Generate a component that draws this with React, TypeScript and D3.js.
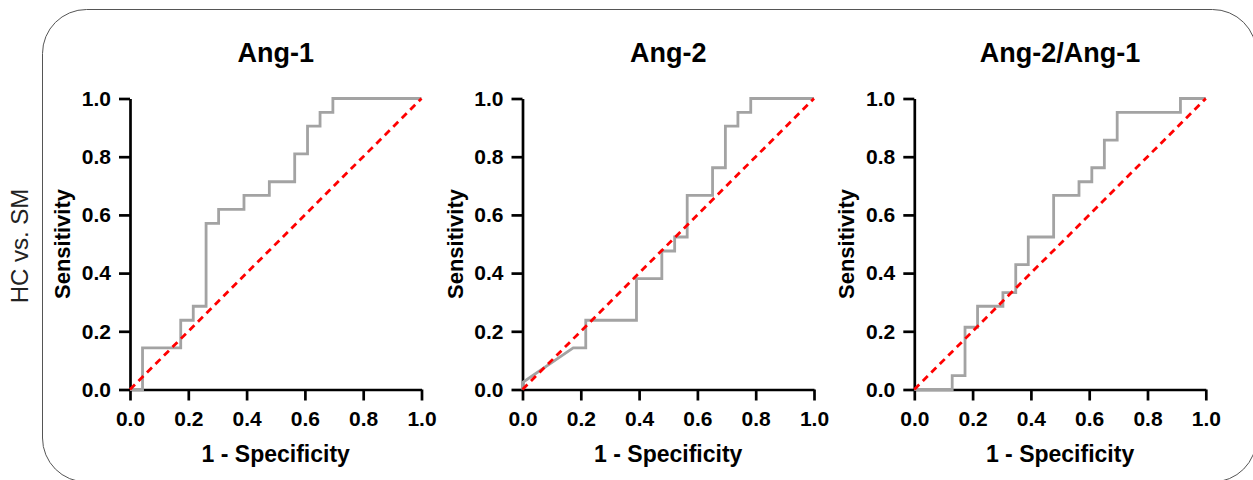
import React, { useRef, useEffect } from 'react';
import { select, scaleLinear, axisBottom, axisLeft, line, format } from 'd3';

const panelTitles = ['Ang-1', 'Ang-2', 'Ang-2/Ang-1'];
const rowLabel = 'HC vs. SM';
const xLabel = '1 - Specificity';
const yLabel = 'Sensitivity';
const tickValues = [0, 0.2, 0.4, 0.6, 0.8, 1.0];

// ROC step curves (1 - specificity, sensitivity)
const ang1Fpr = [0, 0.043, 0.043, 0.174, 0.174, 0.217, 0.217, 0.261, 0.261, 0.304, 0.304, 0.391, 0.391, 0.478, 0.478, 0.565, 0.565, 0.609, 0.609, 0.652, 0.652, 0.696, 0.696, 1];
const ang1Tpr = [0, 0, 0.143, 0.143, 0.238, 0.238, 0.286, 0.286, 0.571, 0.571, 0.619, 0.619, 0.667, 0.667, 0.714, 0.714, 0.81, 0.81, 0.905, 0.905, 0.952, 0.952, 1, 1];

const ang2Fpr = [0, 0, 0.174, 0.217, 0.217, 0.391, 0.391, 0.478, 0.478, 0.522, 0.522, 0.565, 0.565, 0.652, 0.652, 0.696, 0.696, 0.739, 0.739, 0.783, 0.783, 1];
const ang2Tpr = [0, 0.024, 0.143, 0.143, 0.238, 0.238, 0.381, 0.381, 0.476, 0.476, 0.524, 0.524, 0.667, 0.667, 0.762, 0.762, 0.905, 0.905, 0.952, 0.952, 1, 1];

const ratioFpr = [0, 0.13, 0.13, 0.174, 0.174, 0.217, 0.217, 0.304, 0.304, 0.348, 0.348, 0.391, 0.391, 0.478, 0.478, 0.565, 0.565, 0.609, 0.609, 0.652, 0.652, 0.696, 0.696, 0.913, 0.913, 1];
const ratioTpr = [0, 0, 0.048, 0.048, 0.214, 0.214, 0.286, 0.286, 0.333, 0.333, 0.429, 0.429, 0.524, 0.524, 0.667, 0.667, 0.714, 0.714, 0.762, 0.762, 0.857, 0.857, 0.952, 0.952, 1, 1];

const chanceLine = [0, 1];

const curves = [
    { fpr: ang1Fpr, tpr: ang1Tpr },
    { fpr: ang2Fpr, tpr: ang2Tpr },
    { fpr: ratioFpr, tpr: ratioTpr },
];

const FONT = '"Liberation Sans", Arial, sans-serif';
const panelLeft = [130, 522.5, 914.3];
const plotW = 291.5;
const plotTop = 98.5;
const plotH = 291;

const Panel = ({ index }) => {
    const gRef = useRef();

    useEffect(() => {
        const g = select(gRef.current);
        g.selectAll('*').remove();

        const left = panelLeft[index];
        const x = scaleLinear().domain([0, 1]).range([left, left + plotW]);
        const y = scaleLinear().domain([0, 1]).range([plotTop + plotH, plotTop]);
        const { fpr, tpr } = curves[index];

        const xAxis = g.append('g')
            .attr('transform', `translate(0,${plotTop + plotH})`)
            .call(axisBottom(x).tickValues(tickValues).tickFormat(format('.1f')).tickSize(11).tickSizeOuter(0).tickPadding(11));
        const yAxis = g.append('g')
            .attr('transform', `translate(${left},0)`)
            .call(axisLeft(y).tickValues(tickValues).tickFormat(format('.1f')).tickSize(11).tickSizeOuter(0).tickPadding(8));

        [xAxis, yAxis].forEach(a => {
            a.selectAll('path, line').attr('stroke', '#000').attr('stroke-width', 2.7);
            a.selectAll('text')
                .attr('fill', '#000')
                .style('font-family', FONT)
                .style('font-size', '21px')
                .style('font-weight', 'bold');
        });

        const lineGen = line().x(d => x(d[0])).y(d => y(d[1]));

        g.append('path')
            .datum(fpr.map((f, i) => [f, tpr[i]]))
            .attr('fill', 'none')
            .attr('stroke', '#a3a3a3')
            .attr('stroke-width', 2.8)
            .attr('d', lineGen);

        g.append('path')
            .datum(chanceLine.map(v => [v, v]))
            .attr('fill', 'none')
            .attr('stroke', '#ff0000')
            .attr('stroke-width', 2.8)
            .attr('stroke-dasharray', '7,5')
            .attr('d', lineGen);

        const cx = left + plotW / 2;
        g.append('text')
            .attr('x', cx).attr('y', 62)
            .attr('text-anchor', 'middle')
            .style('font-family', FONT).style('font-size', '27px').style('font-weight', 'bold')
            .text(panelTitles[index]);

        g.append('text')
            .attr('x', cx).attr('y', 462)
            .attr('text-anchor', 'middle')
            .style('font-family', FONT).style('font-size', '23px').style('font-weight', 'bold')
            .text(xLabel);

        g.append('text')
            .attr('transform', `translate(${left - 60},${plotTop + plotH / 2}) rotate(-90)`)
            .attr('text-anchor', 'middle')
            .style('font-family', FONT).style('font-size', '22px').style('font-weight', 'bold')
            .text(yLabel);
    }, [index]);

    return <g ref={gRef} />;
};

const App = () => {
    return (
        <svg width={1253} height={480} style={{ position: 'absolute', left: 0, top: 0, background: '#fff' }}>
            <rect x={42.5} y={9.5} width={1214} height={472.5} rx={44} ry={44}
                fill="#fff" stroke="#555" strokeWidth={1} />
            <text transform="translate(28,246) rotate(-90)" textAnchor="middle"
                style={{ fontFamily: FONT, fontSize: '24px' }} fill="#222">
                {rowLabel}
            </text>
            {panelTitles.map((t, i) => <Panel key={t} index={i} />)}
        </svg>
    );
};

export default App;
